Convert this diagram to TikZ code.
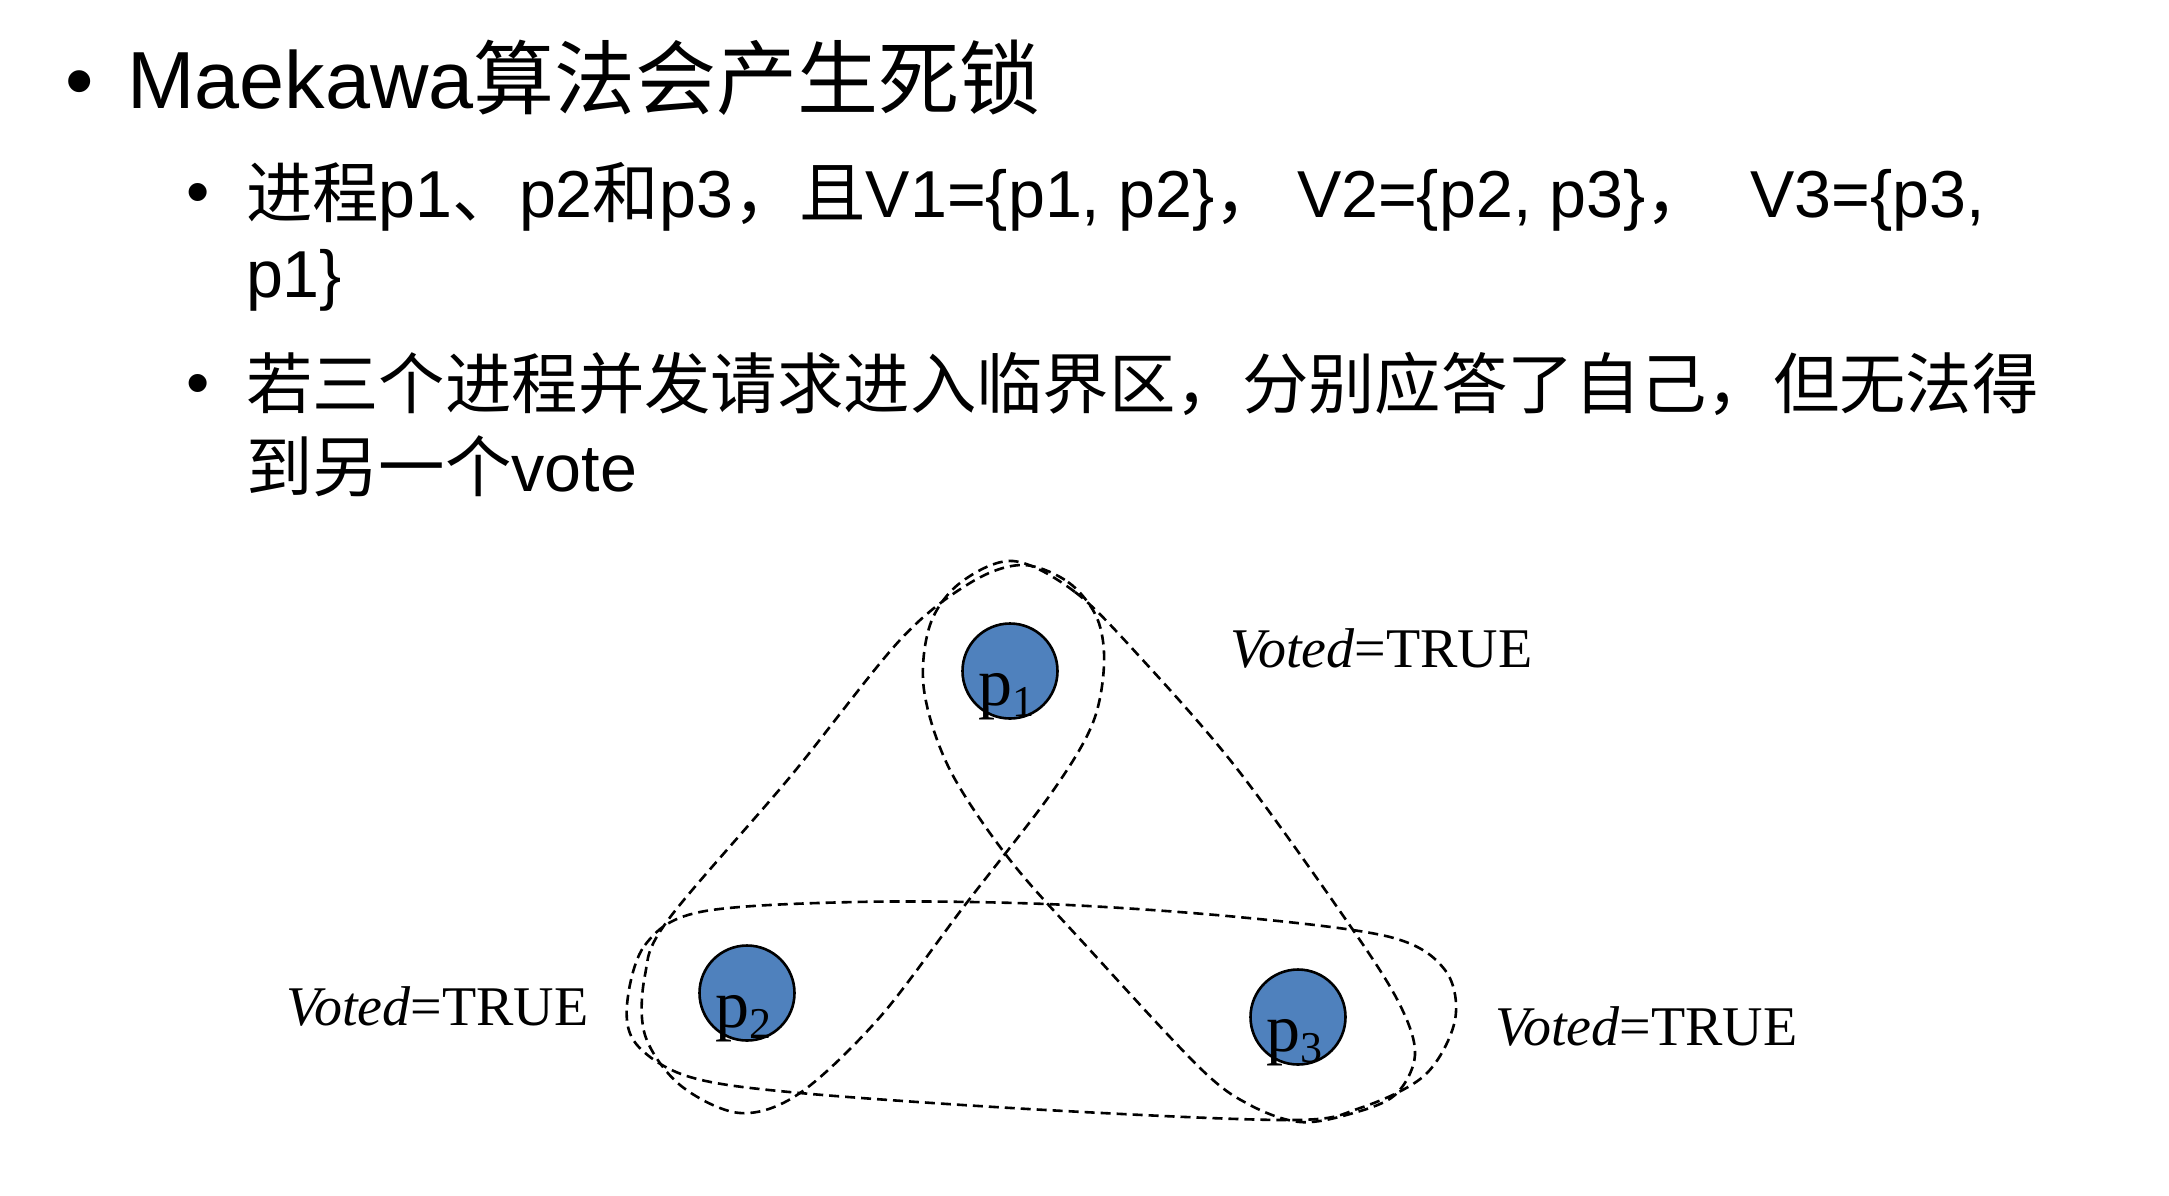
\documentclass[tikz,border=0pt]{standalone}
\usepackage{fontspec}
\setmainfont{Liberation Sans}
\newfontfamily\cjk{Noto Sans CJK SC}
\newfontfamily\serif{Liberation Serif}
\definecolor{nodeblue}{HTML}{4F81BD}
\begin{document}
\begin{tikzpicture}[x=1pt,y=-1pt,
  txt/.style={anchor=base west, inner sep=0pt, outer sep=0pt},
  bigtxt/.style={txt, font=\fontsize{81}{96}\selectfont},
  smalltxt/.style={txt, font=\fontsize{66.4}{80}\selectfont},
  proc/.style={circle, draw=black, line width=2.6pt, fill=nodeblue, minimum size=95pt, inner sep=0pt},
  plab/.style={anchor=base, inner sep=0pt, font=\serif\fontsize{68}{68}\selectfont},
  vote/.style={anchor=base west, inner sep=0pt, font=\serif\fontsize{56}{60}\selectfont},
  qloop/.style={draw=black, line width=2.6pt, dash pattern=on 10pt off 6pt}]
\fill[white] (0,0) rectangle (2169,1195);
\useasboundingbox (0,0) rectangle (2169,1195);

% bullets and text
\node[bigtxt] (b1) at (65,108) {•};
\node[bigtxt] (t1) at (127,108) {Maekawa{\cjk 算法会产生死锁}};
\node[smalltxt] (b2) at (186,214) {•};
\node[smalltxt] (t2a) at (246,217) {{\cjk 进程}p1{\cjk 、}p2{\cjk 和}p3{\cjk ，且}V1=\{p1, p2\}{\cjk ，}};
\node[smalltxt] (t2b) at (1297,217) {V2=\{p2, p3\}{\cjk ，}};
\node[smalltxt] (t2c) at (1750,217) {V3=\{p3,};
\node[smalltxt] (t3) at (246,297) {p1\}};
\node[smalltxt] (b4) at (186,405) {•};
\node[smalltxt] (t4) at (246,408) {\cjk 若三个进程并发请求进入临界区，分别应答了自己，但无法得};
\node[smalltxt] (t5) at (246,491) {{\cjk 到另一个}vote};

% quorum loops
\draw[qloop] plot[smooth cycle, tension=0.55] coordinates {
  (1022,565) (1068,582) (1097,618) (1104,665) (1092,725) (1050,795)
  (965,905) (880,1017) (800,1093) (740,1113) (680,1085) (645,1035)
  (645,975) (668,920) (790,777) (900,640) (970,583)};
\draw[qloop] plot[smooth cycle, tension=0.55] coordinates {
  (1013,561) (1075,592) (1140,657) (1238,770) (1353,930) (1400,1005)
  (1415,1055) (1395,1095) (1350,1114) (1300,1122) (1250,1105) (1200,1068)
  (1090,950) (1010,860) (950,770) (924,690) (930,625) (960,583)};
\draw[qloop] plot[smooth cycle, tension=0.55] coordinates {
  (627,1005) (645,945) (700,912) (855,902) (1046,904) (1238,917)
  (1390,937) (1445,970) (1455,1020) (1425,1075) (1360,1108) (1290,1120)
  (1046,1110) (800,1093) (690,1077) (637,1045)};

% processes
\node[proc] (p1) at (1010,671) {};
\node[proc] (p2) at (747,993) {};
\node[proc] (p3) at (1298,1017) {};
\node[plab] (l1) at (1006,705) {p\raisebox{-11pt}{\fontsize{44}{44}\selectfont 1}};
\node[plab] (l2) at (743,1027) {p\raisebox{-11pt}{\fontsize{44}{44}\selectfont 2}};
\node[plab] (l3) at (1294,1051) {p\raisebox{-11pt}{\fontsize{44}{44}\selectfont 3}};

% labels
\node[vote] (v1) at (1230,667) {\textit{Voted}=TRUE};
\node[vote] (v2) at (286,1025) {\textit{Voted}=TRUE};
\node[vote] (v3) at (1495,1045) {\textit{Voted}=TRUE};
\end{tikzpicture}
\end{document}
